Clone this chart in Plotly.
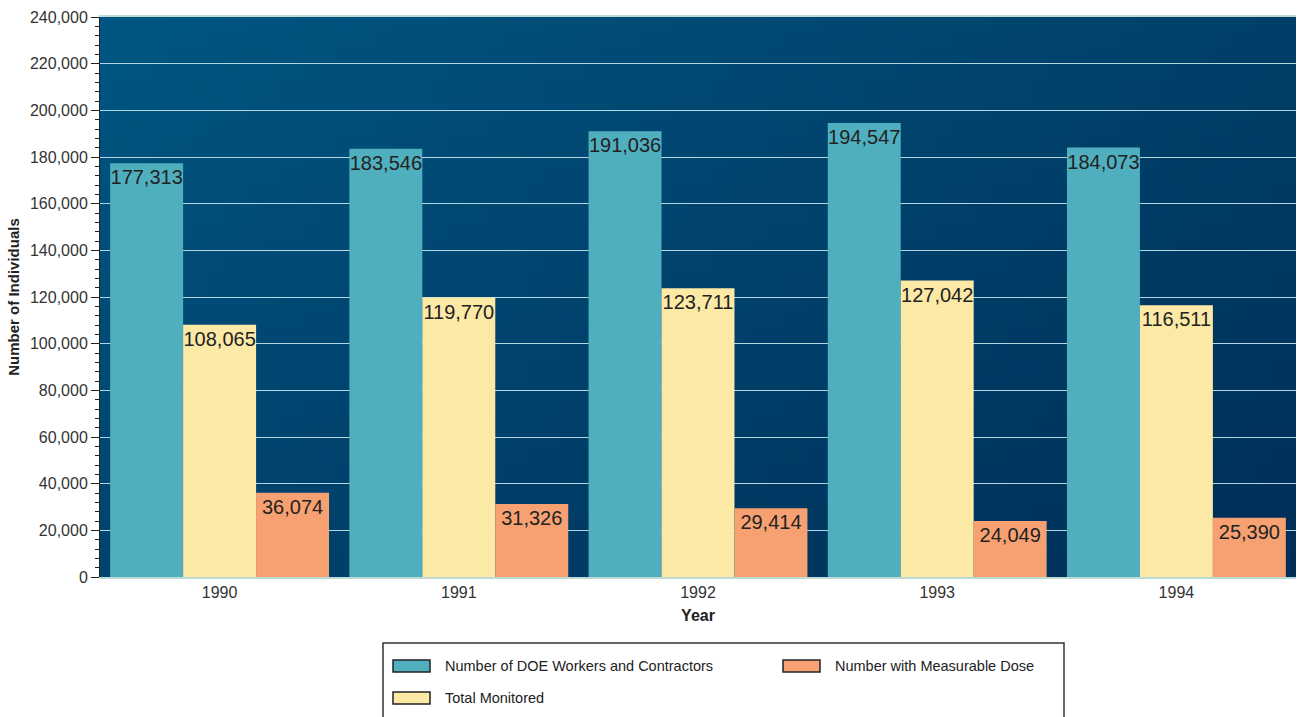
import base64
import struct
import zlib

import plotly.graph_objects as go

years = ["1990", "1991", "1992", "1993", "1994"]
doe_workers = [177313, 183546, 191036, 194547, 184073]
total_monitored = [108065, 119770, 123711, 127042, 116511]
measurable_dose = [36074, 31326, 29414, 24049, 25390]

series_names = [
    "Number of DOE Workers and Contractors",
    "Total Monitored",
    "Number with Measurable Dose",
]
series_values = [doe_workers, total_monitored, measurable_dose]
series_colors = ["#50afbf", "#fde9a6", "#f7a172"]

W, H = 1299, 717
L, R, T, B = 100, 3, 17, 140
PW, PH = W - L - R, H - T - B


def px_x(x):
    return (x - L) / PW


def px_y(y):
    return (H - B - y) / PH


def gradient_png(w, h, tl, tr, bl, br):
    # small bilinear gradient, stretched over the plot area
    rows = b""
    for j in range(h):
        v = j / (h - 1)
        rows += b"\x00"
        for i in range(w):
            u = i / (w - 1)
            px = bytes(
                int(round((tl[k] * (1 - u) + tr[k] * u) * (1 - v)
                          + (bl[k] * (1 - u) + br[k] * u) * v))
                for k in range(3)
            )
            rows += px

    def chunk(tag, data):
        c = struct.pack(">I", len(data)) + tag + data
        return c + struct.pack(">I", zlib.crc32(tag + data) & 0xFFFFFFFF)

    png = b"\x89PNG\r\n\x1a\n"
    png += chunk(b"IHDR", struct.pack(">IIBBBBB", w, h, 8, 2, 0, 0, 0))
    png += chunk(b"IDAT", zlib.compress(rows, 9))
    png += chunk(b"IEND", b"")
    return "data:image/png;base64," + base64.b64encode(png).decode()


bg = gradient_png(64, 32, (0, 86, 130), (0, 64, 104), (0, 68, 110), (0, 46, 88))

fig = go.Figure()
for name, vals, color in zip(series_names, series_values, series_colors):
    fig.add_trace(go.Bar(
        x=years, y=vals, name=name,
        marker=dict(color=color, line=dict(width=0)),
        text=[f"{v:,}" for v in vals],
        textposition="inside", insidetextanchor="end", textangle=0,
        textfont=dict(family="Arial, Liberation Sans", size=20, color="#222222"),
        showlegend=False,
    ))

fig.add_layout_image(dict(
    source=bg, xref="paper", yref="paper", x=0, y=1, sizex=1, sizey=1,
    sizing="stretch", layer="below",
))

# hand-drawn legend box to match the wide swatches
shapes = [dict(type="rect", xref="paper", yref="paper",
               x0=px_x(383), x1=px_x(1064), y0=px_y(643), y1=px_y(730),
               line=dict(color="#333333", width=1.5), fillcolor="white")]
annotations = []
legend_pos = [(393, 666), (393, 698), (783, 666)]
for (lx, ly), name, color in zip(legend_pos, series_names, series_colors):
    shapes.append(dict(type="rect", xref="paper", yref="paper",
                       x0=px_x(lx), x1=px_x(lx + 37), y0=px_y(ly + 6), y1=px_y(ly - 6),
                       line=dict(color="#222222", width=1.5), fillcolor=color))
    annotations.append(dict(xref="paper", yref="paper", x=px_x(lx + 50), y=px_y(ly),
                            text=name, showarrow=False, xanchor="left", yanchor="middle",
                            font=dict(family="Arial, Liberation Sans", size=14.5, color="#222222")))

fig.update_layout(
    width=W, height=H,
    margin=dict(l=L, r=R, t=T, b=B),
    paper_bgcolor="white",
    plot_bgcolor="rgba(0,0,0,0)",
    barmode="group", bargap=0.085, bargroupgap=0,
    uniformtext=dict(minsize=20, mode="show"),
    font=dict(family="Arial, Liberation Sans", color="#333333"),
    shapes=shapes, annotations=annotations,
    xaxis=dict(
        showline=True, linecolor="#bcdad6", linewidth=2, mirror=True,
        ticks="", tickfont=dict(size=16, color="#333333"),
        title=dict(text="<b>Year</b>", font=dict(size=16, color="#222222"), standoff=10),
        showgrid=False,
    ),
    yaxis=dict(
        range=[0, 240000], dtick=20000, tickformat=",",
        showline=True, linecolor="#222222", linewidth=1,
        ticks="outside", ticklen=8, tickcolor="#222222",
        minor=dict(dtick=4000, ticks="outside", ticklen=4, tickcolor="#222222", showgrid=False),
        tickfont=dict(size=16, color="#333333"),
        showgrid=True, gridcolor="#b4d6e0", gridwidth=1,
        zeroline=False,
        title=dict(text="<b>Number of Individuals</b>", font=dict(size=15, color="#222222"), standoff=6),
    ),
)

fig.write_html("out.html", config={"displayModeBar": False},
               post_script="document.body.style.margin='0';")
